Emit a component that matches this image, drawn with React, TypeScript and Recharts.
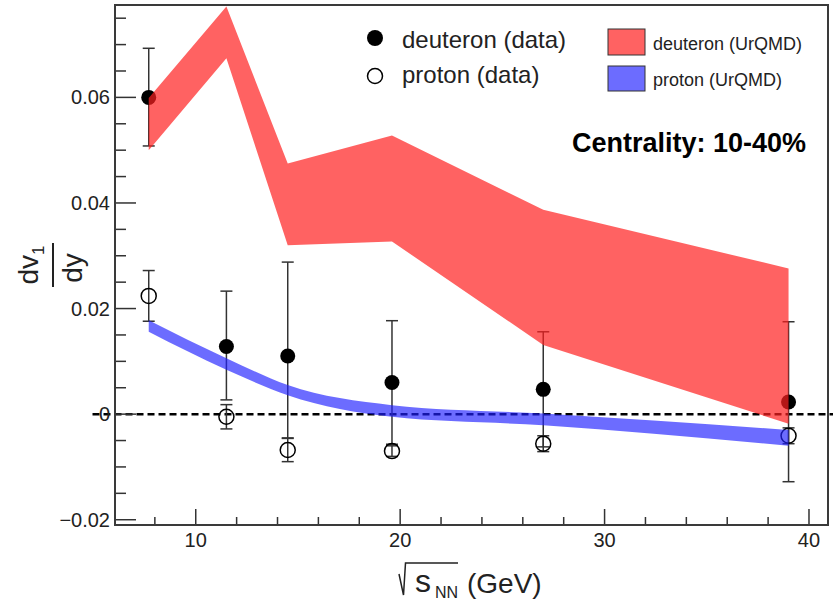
import React from 'react';
import {
  ComposedChart,
  XAxis,
  YAxis,
  Area,
  Scatter,
  ErrorBar,
  ReferenceLine,
} from 'recharts';

// collision energies (GeV)
const energies = [7.7, 11.5, 14.5, 19.6, 27, 39];

// measured dv1/dy
const deuteronV1 = [0.06, 0.0128, 0.011, 0.006, 0.0047, 0.0023];
const deuteronErrLow = [0.0092, 0.0101, 0.0155, 0.0117, 0.0109, 0.0151];
const deuteronErrHigh = [0.0093, 0.0105, 0.0178, 0.0117, 0.0109, 0.0152];
const protonV1 = [0.0224, -0.0005, -0.0068, -0.007, -0.0056, -0.0041];
const protonErr = [0.0048, 0.0023, 0.0022, 0.001, 0.0015, 0.0015];

// UrQMD bands
const deuteronUrqmdLow = [0.05, 0.0674, 0.032, 0.0327, 0.0131, -0.0018];
const deuteronUrqmdHigh = [0.0599, 0.0772, 0.0475, 0.0528, 0.0387, 0.0276];
const protonUrqmdLow = [0.0156, 0.0084, 0.0036, -0.0005, -0.0021, -0.006];
const protonUrqmdHigh = [0.0178, 0.0106, 0.0055, 0.0017, 0.0001, -0.003];

// axis ticks
const xTicks = [8, 10, 12, 14, 16, 18, 20, 22, 24, 26, 28, 30, 32, 34, 36, 38, 40];
const xTickLabels = [10, 20, 30, 40];
const yTicks = [
  -0.02, -0.015, -0.01, -0.005, 0, 0.005, 0.01, 0.015, 0.02, 0.025, 0.03, 0.035,
  0.04, 0.045, 0.05, 0.055, 0.06, 0.065, 0.07, 0.075,
];
const yTickLabels = [
  { value: -0.02, text: '\u22120.02' },
  { value: 0, text: '0' },
  { value: 0.02, text: '0.02' },
  { value: 0.04, text: '0.04' },
  { value: 0.06, text: '0.06' },
];

const FONT = '"Liberation Sans", Arial, Helvetica, sans-serif';
const RED = '#ff2020';
const BLUE = '#2020ff';
const INK = '#222';

const rows = energies.map((e, i) => ({
  energy: e,
  deuteron: deuteronV1[i],
  deuteronErr: [deuteronErrLow[i], deuteronErrHigh[i]],
  proton: protonV1[i],
  protonErr: protonErr[i],
  dBand: [deuteronUrqmdLow[i], deuteronUrqmdHigh[i]],
  pBand: [protonUrqmdLow[i], protonUrqmdHigh[i]],
}));

function XTick(props: any) {
  const { x, y, payload } = props;
  const v = payload.value;
  const major = xTickLabels.includes(v);
  return (
    <g>
      <line x1={x} x2={x} y1={y} y2={y - (major ? 16 : 8)} stroke="#333" strokeWidth={1.5} />
      {major && (
        <text x={x} y={y + 22} textAnchor="middle" fontSize={20} fontFamily={FONT} fill={INK}>
          {v}
        </text>
      )}
    </g>
  );
}

function YTick(props: any) {
  const { x, y, payload } = props;
  const v = payload.value;
  const lab = yTickLabels.find((t) => Math.abs(t.value - v) < 1e-9);
  return (
    <g>
      <line x1={x} x2={x + (lab ? 21 : 11)} y1={y} y2={y} stroke="#333" strokeWidth={1.5} />
      {lab && (
        <text x={x - 5} y={y + 7} textAnchor="end" fontSize={20} fontFamily={FONT} fill={INK}>
          {lab.text}
        </text>
      )}
    </g>
  );
}

const FilledDot = (p: any) => <circle cx={p.cx} cy={p.cy} r={7.5} fill="#000" />;
const OpenDot = (p: any) => (
  <circle cx={p.cx} cy={p.cy} r={7.5} fill="none" stroke="#000" strokeWidth={1.5} />
);

export default function App() {
  return (
    <div style={{ position: 'absolute', left: 0, top: 0, width: 833, height: 605, background: '#fff' }}>
      <ComposedChart
        width={833}
        height={605}
        data={rows}
        margin={{ top: 5, right: 5, left: 0, bottom: 0 }}
      >
        <XAxis
          dataKey="energy"
          type="number"
          domain={[6.05, 40.93]}
          ticks={xTicks}
          interval={0}
          height={80}
          tickSize={0}
          tickMargin={0}
          axisLine={false}
          tick={<XTick />}
          allowDataOverflow
        />
        <YAxis
          type="number"
          domain={[-0.021, 0.0775]}
          ticks={yTicks}
          interval={0}
          width={115}
          tickSize={0}
          tickMargin={0}
          axisLine={false}
          tick={<YTick />}
          allowDataOverflow
        />
        <ReferenceLine
          segment={[
            { x: 4.95, y: 0 },
            { x: 41.2, y: 0 },
          ]}
          ifOverflow="visible"
          stroke="#000"
          strokeWidth={2.5}
          strokeDasharray="7 4"
        />
        <Scatter dataKey="deuteron" shape={FilledDot} isAnimationActive={false}>
          <ErrorBar dataKey="deuteronErr" direction="y" width={6} stroke="#333" strokeWidth={1.5} />
        </Scatter>
        <Scatter dataKey="proton" shape={OpenDot} isAnimationActive={false}>
          <ErrorBar dataKey="protonErr" direction="y" width={6} stroke="#333" strokeWidth={1.5} />
        </Scatter>
        {/* model bands sit on top of the points, like the ROOT pattern fill */}
        <Area
          dataKey="dBand"
          type="linear"
          stroke="none"
          fill={RED}
          fillOpacity={0.7}
          isAnimationActive={false}
          activeDot={false}
          zIndex={700}
        />
        <Area
          dataKey="pBand"
          type="monotone"
          stroke="none"
          fill={BLUE}
          fillOpacity={0.66}
          isAnimationActive={false}
          activeDot={false}
          zIndex={700}
        />
      </ComposedChart>

      <svg
        width={833}
        height={605}
        style={{ position: 'absolute', left: 0, top: 0, pointerEvents: 'none' }}
        fontFamily={FONT}
      >
        {/* frame */}
        <rect x={115} y={5} width={713} height={520} fill="none" stroke="#3a3a3a" strokeWidth={2} />

        {/* y title */}
        <text transform="translate(38,265) rotate(-90)" textAnchor="middle" fontSize={28} fill={INK}>
          dv
          <tspan fontSize={17} dy={6}>
            1
          </tspan>
        </text>
        <line x1={53} x2={53} y1={243} y2={287} stroke={INK} strokeWidth={2} />
        <text transform="translate(82,268) rotate(-90)" textAnchor="middle" fontSize={28} fill={INK}>
          dy
        </text>

        {/* x title */}
        <polyline
          points="399,574 403.5,595 405.5,563 458,563"
          fill="none"
          stroke={INK}
          strokeWidth={1.5}
        />
        <text x={415} y={592} fontSize={32} fill={INK}>
          s
        </text>
        <text x={435} y={598} fontSize={16} fill={INK}>
          NN
        </text>
        <text x={467} y={593} fontSize={28} fill={INK}>
          (GeV)
        </text>

        {/* data legend */}
        <circle cx={375} cy={38} r={8} fill="#000" />
        <text x={402} y={48} fontSize={24} fill={INK}>
          deuteron (data)
        </text>
        <circle cx={375} cy={76} r={7.5} fill="none" stroke="#000" strokeWidth={1.5} />
        <text x={402} y={83} fontSize={24} fill={INK}>
          proton (data)
        </text>

        {/* model legend */}
        <rect x={608} y={29} width={37} height={26} fill={RED} fillOpacity={0.7} stroke="#333" strokeWidth={1} />
        <text x={653} y={50} fontSize={18} fill={INK}>
          deuteron (UrQMD)
        </text>
        <rect x={608} y={66} width={37} height={25} fill={BLUE} fillOpacity={0.66} stroke="#333" strokeWidth={1} />
        <text x={653} y={86} fontSize={18} fill={INK}>
          proton (UrQMD)
        </text>

        <text x={572} y={152} fontSize={27} fontWeight="bold" fill="#000">
          Centrality: 10-40%
        </text>
      </svg>
    </div>
  );
}
